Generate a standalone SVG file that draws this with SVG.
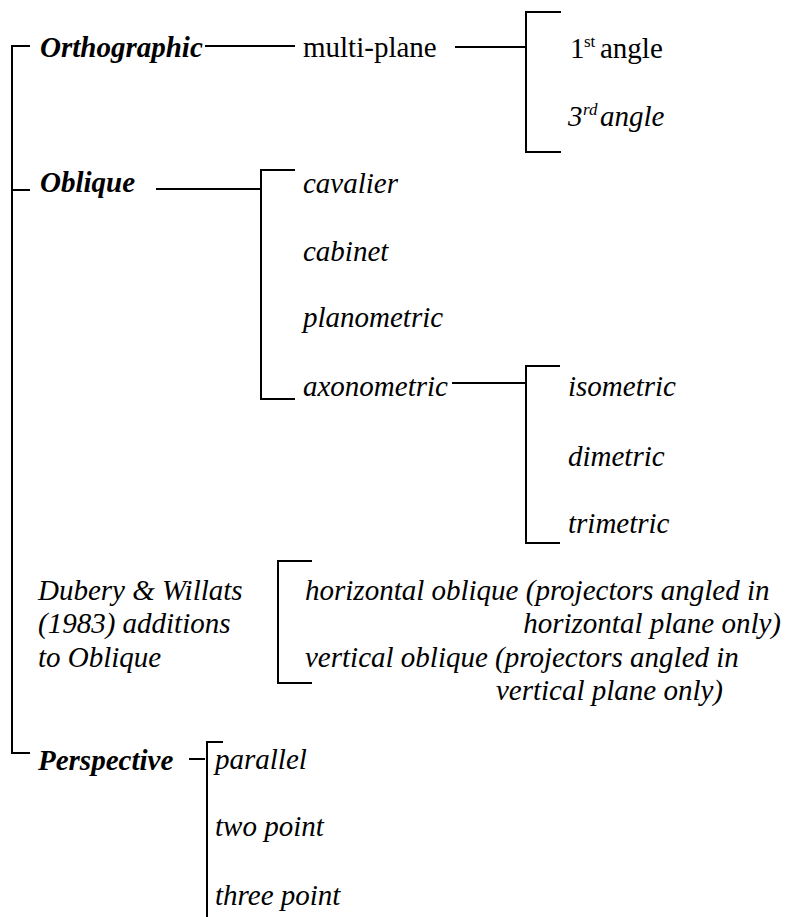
<svg xmlns="http://www.w3.org/2000/svg" width="787" height="917" viewBox="0 0 787 917">
<rect width="787" height="917" fill="#fff"/>
<g id="connectors" stroke="#000" stroke-width="2" fill="none">
<polyline points="30,46 12,46 12,753 30,753"/>
<line x1="12" y1="190" x2="30" y2="190"/>
<line x1="205" y1="46" x2="295" y2="46"/>
<line x1="455" y1="47" x2="526" y2="47"/>
<polyline points="561,12 526,12 526,152 561,152"/>
<line x1="156" y1="189" x2="261" y2="189"/>
<polyline points="295,170 261,170 261,399 295,399"/>
<line x1="452" y1="383" x2="526" y2="383"/>
<polyline points="560,366 526,366 526,543 560,543"/>
<polyline points="312,561 278,561 278,683 312,683"/>
<line x1="189" y1="759" x2="205" y2="759"/>
<polyline points="223,742 207,742 207,917"/>
</g>
<g id="orthographic"><text font-family="Liberation Serif" font-size="29" font-weight="bold" font-style="italic" x="40" y="57">Orthographic</text></g>
<g id="multi-plane"><text font-family="Liberation Serif" font-size="29" x="303" y="57">multi-plane</text></g>
<g id="first-angle"><text font-family="Liberation Serif" font-size="29" x="570" y="58">1</text><text font-family="Liberation Serif" font-size="17" x="584" y="47">st</text><text font-family="Liberation Serif" font-size="29" x="600" y="58">angle</text></g>
<g id="third-angle"><text font-family="Liberation Serif" font-size="29" font-style="italic" x="568" y="126">3</text><text font-family="Liberation Serif" font-size="17" font-style="italic" x="583" y="115">rd</text><text font-family="Liberation Serif" font-size="29" font-style="italic" x="600" y="126">angle</text></g>
<g id="oblique"><text font-family="Liberation Serif" font-size="29" font-weight="bold" font-style="italic" x="40" y="192">Oblique</text></g>
<g id="cavalier"><text font-family="Liberation Serif" font-size="29" font-style="italic" x="303" y="193">cavalier</text></g>
<g id="cabinet"><text font-family="Liberation Serif" font-size="29" font-style="italic" x="303" y="261">cabinet</text></g>
<g id="planometric"><text font-family="Liberation Serif" font-size="29" font-style="italic" x="303" y="327">planometric</text></g>
<g id="axonometric"><text font-family="Liberation Serif" font-size="29" font-style="italic" x="303" y="396">axonometric</text></g>
<g id="isometric"><text font-family="Liberation Serif" font-size="29" font-style="italic" x="568" y="396">isometric</text></g>
<g id="dimetric"><text font-family="Liberation Serif" font-size="29" font-style="italic" x="568" y="466">dimetric</text></g>
<g id="trimetric"><text font-family="Liberation Serif" font-size="29" font-style="italic" x="568" y="533">trimetric</text></g>
<g id="dubery-willats">
<text font-family="Liberation Serif" font-size="29" font-style="italic" x="38" y="600">Dubery &amp; Willats</text>
<text font-family="Liberation Serif" font-size="29" font-style="italic" x="38" y="633">(1983) additions</text>
<text font-family="Liberation Serif" font-size="29" font-style="italic" x="38" y="667">to Oblique</text>
</g>
<g id="horizontal-oblique">
<text font-family="Liberation Serif" font-size="29" font-style="italic" x="305" y="600">horizontal oblique (projectors angled in</text>
<text font-family="Liberation Serif" font-size="29" font-style="italic" x="781" y="633" text-anchor="end">horizontal plane only)</text>
</g>
<g id="vertical-oblique">
<text font-family="Liberation Serif" font-size="29" font-style="italic" x="305" y="667">vertical oblique (projectors angled in</text>
<text font-family="Liberation Serif" font-size="29" font-style="italic" x="723" y="700" text-anchor="end">vertical plane only)</text>
</g>
<g id="perspective"><text font-family="Liberation Serif" font-size="29" font-weight="bold" font-style="italic" x="38" y="770">Perspective</text></g>
<g id="parallel"><text font-family="Liberation Serif" font-size="29" font-style="italic" x="215" y="769">parallel</text></g>
<g id="two-point"><text font-family="Liberation Serif" font-size="29" font-style="italic" x="215" y="836">two point</text></g>
<g id="three-point"><text font-family="Liberation Serif" font-size="29" font-style="italic" x="215" y="905">three point</text></g>
</svg>
